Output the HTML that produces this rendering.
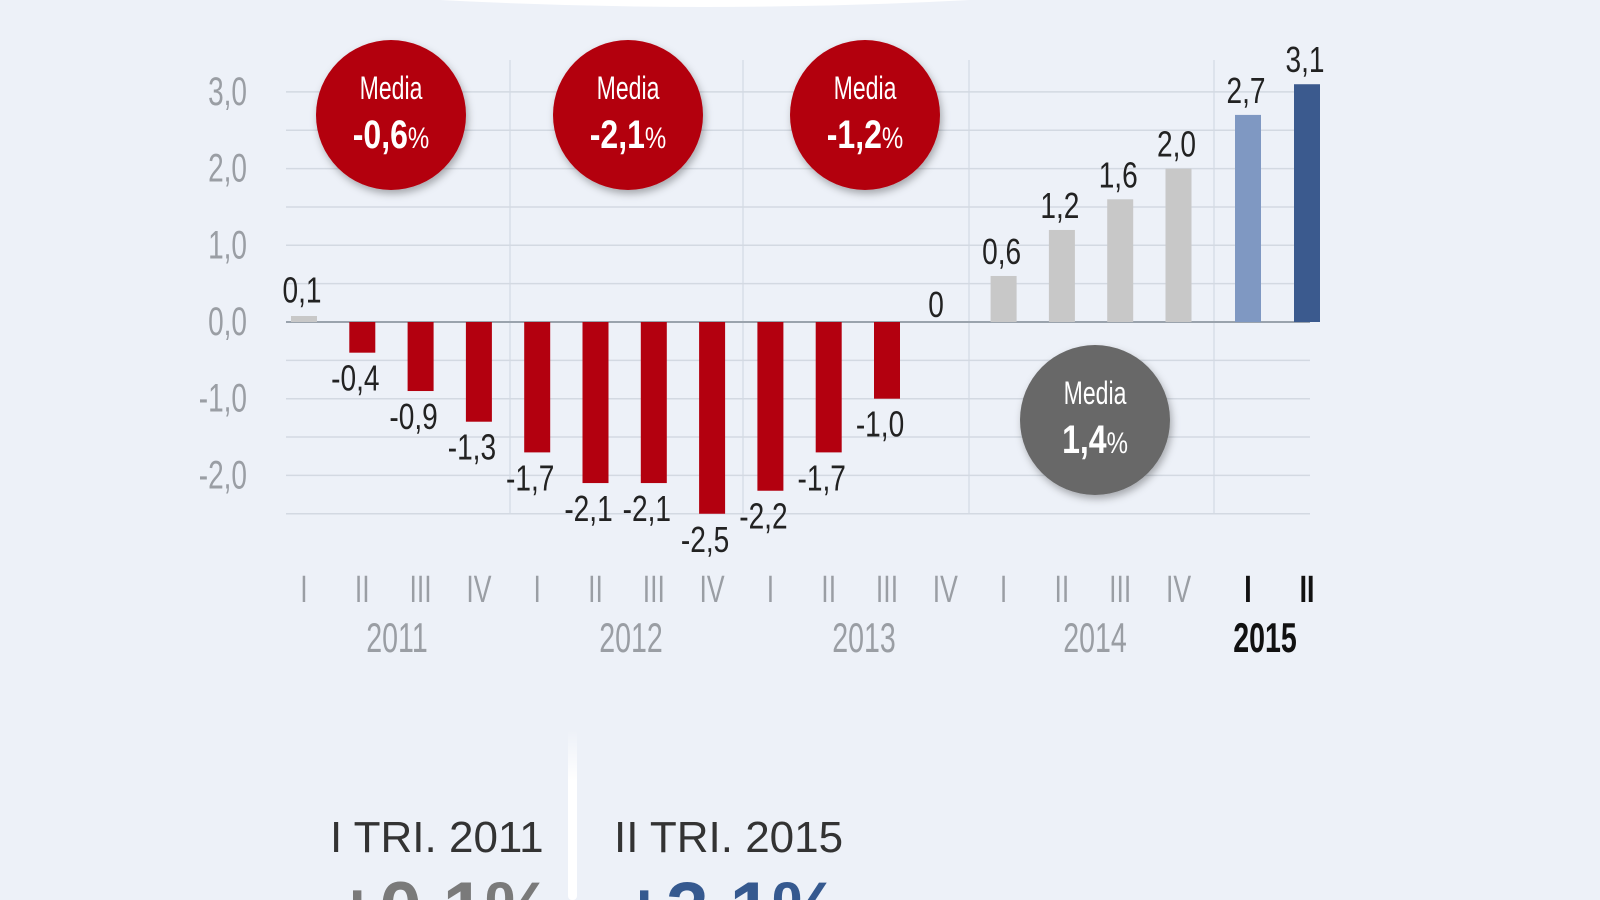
<!DOCTYPE html>
<html><head><meta charset="utf-8">
<style>
html,body{margin:0;padding:0;background:#edf1f8;width:1600px;height:900px;overflow:hidden}
svg{display:block}
text{font-family:"Liberation Sans",sans-serif}
</style></head><body>
<svg id="s" width="1600" height="900" viewBox="0 0 1600 900" xmlns="http://www.w3.org/2000/svg">
<defs>
<filter id="sh" x="-20%" y="-20%" width="140%" height="150%"><feDropShadow dx="2" dy="4" stdDeviation="4" flood-color="#000" flood-opacity="0.3"/></filter>
<linearGradient id="sep" x1="0" y1="0" x2="0" y2="1"><stop offset="0" stop-color="#fff" stop-opacity="0"/><stop offset="0.3" stop-color="#fff"/><stop offset="1" stop-color="#fff"/></linearGradient>
</defs>
<rect width="1600" height="900" fill="#edf1f8"/>
<path d="M440 0 Q705 14 970 0 Z" fill="#fff"/>
<g id="g"></g>
<rect x="568" y="730" width="9" height="170" rx="4" fill="url(#sep)"/>
<text x="330" y="852" font-size="44" fill="#333">I TRI. 2011</text>
<text x="614" y="852" font-size="44" fill="#333">II TRI. 2015</text>
<text x="335" y="935" font-size="76" font-weight="bold" fill="#7a7a7a">+0,1%</text>
<text x="622" y="935" font-size="76" font-weight="bold" fill="#35598f">+3,1%</text>
</svg>
<script>
var g=document.getElementById('g'),h='';
function T(x,y,s,fs,c,sx,anc,w){h+='<text transform="translate('+x+','+y+') scale('+sx+',1)" font-size="'+fs+'" fill="'+c+'" text-anchor="'+(anc||'middle')+'"'+(w?' font-weight="bold"':'')+'>'+s+'</text>';}
var Y0=322,U=76.7;
[510,743,969,1214].forEach(function(x){h+='<line x1="'+x+'" y1="60" x2="'+x+'" y2="514" stroke="#dde3ec" stroke-width="2"/>';});
for(var k=-5;k<=6;k++){var yy=Y0-k*U/2;h+='<line x1="286" x2="1310" y1="'+yy+'" y2="'+yy+'" stroke="'+(k==0?'#9aa3ad':'#d3d9e2')+'" stroke-width="'+(k==0?2:1.5)+'"/>';}
['3,0','2,0','1,0','0,0','-1,0','-2,0'].forEach(function(s,i){T(247,Y0-(3-i)*U+13,s,40,'#9a9ea4',0.7,'end');});
var v=[0.1,-0.4,-0.9,-1.3,-1.7,-2.1,-2.1,-2.5,-2.2,-1.7,-1.0,0,0.6,1.2,1.6,2.0,2.7,3.1];
var lab=['0,1','-0,4','-0,9','-1,3','-1,7','-2,1','-2,1','-2,5','-2,2','-1,7','-1,0','0','0,6','1,2','1,6','2,0','2,7','3,1'];
var q=['I','II','III','IV'];
for(var i=0;i<18;i++){
 var cx=i<16?304+58.3*i:(i==16?1248:1307);
 var c=v[i]<0?'#b3000f':(i==16?'#7f98c2':(i==17?'#3b5a8e':'#c8c8c8'));
 var hh=Math.abs(v[i])*U, by=v[i]>=0?Y0-hh:Y0;
 if(i==0){h+='<rect x="'+(cx-13)+'" y="'+(Y0-6)+'" width="26" height="6" fill="#c8c8c8"/>';}
 else if(v[i]!=0) h+='<rect x="'+(cx-13)+'" y="'+by+'" width="26" height="'+hh+'" fill="'+c+'"/>';
 if(v[i]<0) T(cx-7,Y0+hh+38,lab[i],36,'#222',0.78);
 else if(i==11) T(936,317,lab[i],36,'#222',0.78);
 else T(cx-2,Y0-Math.max(hh,6)-12,lab[i],36,'#222',0.78);
 var b=i>=16;
 T(cx,602,i<16?q[i%4]:q[i-16],38,b?'#111':'#9a9ea4',0.7,'middle',b);
}
[[397,'2011'],[631,'2012'],[864,'2013'],[1095,'2014']].forEach(function(a){T(a[0],652,a[1],42,'#9a9ea4',0.68);});
T(1265,652,'2015',42,'#111',0.68,'middle',true);
function C(x,y,col,val){h+='<circle cx="'+x+'" cy="'+y+'" r="75" fill="'+col+'" filter="url(#sh)"/>';
 T(x,y-16,'Media',32,'#fff',0.72);
 h+='<text transform="translate('+x+','+(y+33)+') scale(0.8,1)" font-size="40" fill="#fff" text-anchor="middle" font-weight="bold">'+val+'<tspan font-size="30" font-weight="normal">%</tspan></text>';}
C(391,115,'#b3000f','-0,6');C(628,115,'#b3000f','-2,1');C(865,115,'#b3000f','-1,2');C(1095,420,'#686868','1,4');
g.innerHTML=h;
</script>
</body></html>
